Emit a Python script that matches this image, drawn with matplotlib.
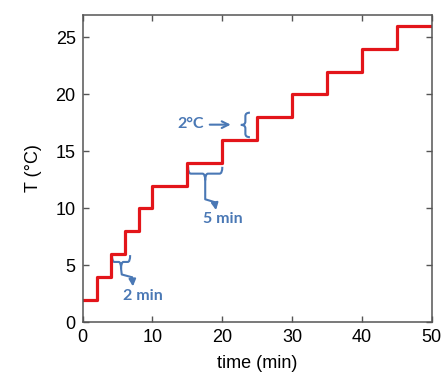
import matplotlib
matplotlib.use("Agg")
import matplotlib.pyplot as plt
from matplotlib.path import Path
from matplotlib.patches import PathPatch

plt.rcParams["font.family"] = ["Liberation Sans", "DejaVu Sans"]

# step profile: time (min) where each level starts, temperature (C)
times = [0, 2, 4, 6, 8, 10, 15, 20, 25, 30, 35, 40, 45, 50]
temps = [2, 4, 6, 8, 10, 12, 14, 16, 18, 20, 22, 24, 26, 26]

RED = "#e3151a"
BLUE = "#4a78b5"


def hbrace(ax, x0, x1, y, h, r):
    xc = (x0 + x1) / 2
    verts = [(x0, y + h), (x0, y), (x0 + r, y), (xc - r, y), (xc, y), (xc, y - h),
             (xc, y), (xc + r, y), (x1 - r, y), (x1, y), (x1, y + h)]
    codes = [Path.MOVETO, Path.CURVE3, Path.CURVE3, Path.LINETO, Path.CURVE3, Path.CURVE3,
             Path.CURVE3, Path.CURVE3, Path.LINETO, Path.CURVE3, Path.CURVE3]
    ax.add_patch(PathPatch(Path(verts, codes), fill=False, ec=BLUE, lw=1.5))


def vbrace(ax, x, y0, y1, w, r):
    yc = (y0 + y1) / 2
    verts = [(x + w, y0), (x, y0), (x, y0 + r), (x, yc - r), (x, yc), (x - w, yc),
             (x, yc), (x, yc + r), (x, y1 - r), (x, y1), (x + w, y1)]
    codes = [Path.MOVETO, Path.CURVE3, Path.CURVE3, Path.LINETO, Path.CURVE3, Path.CURVE3,
             Path.CURVE3, Path.CURVE3, Path.LINETO, Path.CURVE3, Path.CURVE3]
    ax.add_patch(PathPatch(Path(verts, codes), fill=False, ec=BLUE, lw=1.5))


def bent_arrow(ax, pts):
    xs, ys = zip(*pts[:-1])
    ax.plot(xs, ys, color=BLUE, lw=1.5, solid_capstyle="butt")
    ax.annotate("", xy=pts[-1], xytext=pts[-2],
                arrowprops=dict(arrowstyle="-|>", color=BLUE, lw=1.5,
                                shrinkA=0, shrinkB=0, mutation_scale=10))


fig = plt.figure(figsize=(4.42, 3.77), dpi=100)
ax = fig.add_axes([0.187, 0.145, 0.79, 0.816])

ax.step(times, temps, where="post", color=RED, lw=2.3)

ax.set_xlim(0, 50)
ax.set_ylim(0, 27)
ax.set_xticks([0, 10, 20, 30, 40, 50])
ax.set_yticks([0, 5, 10, 15, 20, 25])
ax.tick_params(direction="in", top=True, right=True, length=4, width=1,
               color="#555555", labelsize=13, pad=5)
for s in ax.spines.values():
    s.set_color("#555555")
    s.set_linewidth(1.1)
ax.set_xlabel("time (min)", fontsize=13, labelpad=6)
ax.set_ylabel("T (°C)", fontsize=13, labelpad=10)

afont = dict(color=BLUE, fontsize=11.5, fontweight="bold", family=["Lato", "DejaVu Sans"],
             ha="center", va="center")

# 2 min
hbrace(ax, 4.2, 6.8, 5.3, 0.6, 0.35)
bent_arrow(ax, [(5.5, 4.7), (5.6, 4.2), (7.1, 3.95), (7.2, 3.15)])
ax.text(8.6, 2.3, "2 min", **afont)

# 5 min
hbrace(ax, 15.1, 20.0, 13.05, 0.6, 0.4)
bent_arrow(ax, [(17.55, 12.45), (17.55, 10.8), (18.9, 10.55), (19.1, 9.85)])
ax.text(20.1, 9.1, "5 min", **afont)

# 2 C
vbrace(ax, 23.3, 16.25, 18.4, 0.65, 0.3)
ax.annotate("", xy=(21.2, 17.35), xytext=(18.2, 17.35),
            arrowprops=dict(arrowstyle="->", color=BLUE, lw=1.5,
                            shrinkA=0, shrinkB=0, mutation_scale=12))
ax.text(15.5, 17.45, "2°C", **afont)

fig.savefig("out.png", dpi=100)
